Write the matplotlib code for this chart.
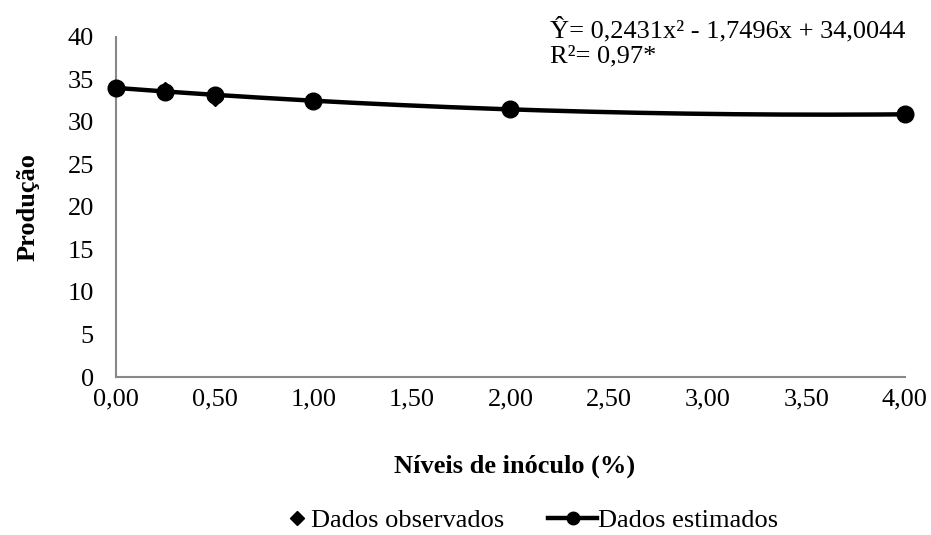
import numpy as np
import matplotlib
matplotlib.use('Agg')
import matplotlib.pyplot as plt
from matplotlib.lines import Line2D

plt.rcParams['font.family'] = ['Liberation Serif', 'DejaVu Serif']

# inoculum levels (%) and production
niveis = [0.0, 0.25, 0.5, 1.0, 2.0, 4.0]
observados = [34.0, 33.75, 32.85, 32.5, 31.5, 30.9]
# quadratic fit: a*x^2 + b*x + c
coef = [0.2431, -1.7496, 34.0044]
estimados = [34.00, 33.58, 33.19, 32.50, 31.48, 30.90]

xticks = [0, 0.5, 1.0, 1.5, 2.0, 2.5, 3.0, 3.5, 4.0]
yticks = [0, 5, 10, 15, 20, 25, 30, 35, 40]

FS = 19

fig = plt.figure(figsize=(9.31, 5.35), dpi=100)
ax = fig.add_axes([0.1246, 0.2953, 0.8474, 0.6357])

# fitted curve
xs = np.linspace(0, 4, 200)
ax.plot(xs, np.polyval(coef, xs), color='black', lw=3.2, solid_capstyle='butt', zorder=2)
ax.plot(niveis, observados, linestyle='none', marker='D', ms=8, color='black', zorder=3)
ax.plot(niveis, estimados, linestyle='none', marker='o', ms=12, color='black', zorder=4,
        clip_on=False)

ax.set_xlim(0, 4)
ax.set_ylim(0, 40)
ax.set_xticks(xticks)
ax.set_xticklabels([('%.2f' % t).replace('.', ',') for t in xticks])
ax.set_yticks(yticks)
ax.tick_params(length=0, labelsize=FS, colors='black')
ax.tick_params(axis='x', pad=8)
ax.tick_params(axis='y', pad=16)
for s in ['top', 'right']:
    ax.spines[s].set_visible(False)
for s in ['left', 'bottom']:
    ax.spines[s].set_color('#888888')
    ax.spines[s].set_linewidth(1.5)

fig.text(0.553, 0.129, 'Níveis de inóculo (%)', fontsize=FS, fontweight='bold',
         ha='center', va='center')
fig.text(0.030, 0.613, 'Produção', fontsize=FS, fontweight='bold', rotation=90,
         ha='center', va='center')

fig.text(0.591, 0.944, 'Ŷ= 0,2431x² - 1,7496x + 34,0044', fontsize=FS, ha='left', va='center')
fig.text(0.591, 0.895, 'R²= 0,97*', fontsize=FS, ha='left', va='center')

fig.legend([Line2D([], [], linestyle='none', marker='D', ms=7, color='black')],
           ['Dados observados'], loc='center left', bbox_to_anchor=(289 / 931, 0.028),
           frameon=False, fontsize=FS, borderpad=0, borderaxespad=0,
           handlelength=0.6, handletextpad=0.25)
fig.legend([Line2D([], [], color='black', lw=3.2, marker='o', ms=9)],
           ['Dados estimados'], loc='center left', bbox_to_anchor=(548 / 931, 0.028),
           frameon=False, fontsize=FS, borderpad=0, borderaxespad=0,
           handlelength=1.86, handletextpad=0.05)

fig.savefig('out.png', dpi=100)
